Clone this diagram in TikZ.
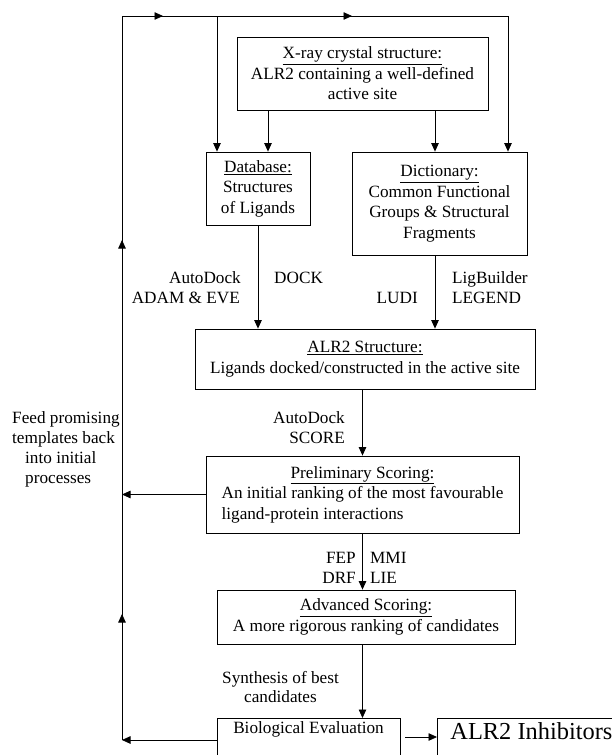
\documentclass[tikz,border=0pt]{standalone}
\usepackage{fontspec}
\setmainfont{Liberation Serif}
\usetikzlibrary{arrows.meta,calc}
\begin{document}
\begin{tikzpicture}[x=1pt,y=-1pt,
  txt/.style={font=\fontsize{17.2}{20.5}\selectfont, inner sep=0pt},
  box/.style={draw, line width=0.8pt, txt, align=center},
  ln/.style={line width=0.8pt},
  arr/.style={ln, -{Triangle[length=8.5pt,width=7.5pt]}}]
\useasboundingbox (0,0) rectangle (612,755);
% boxes
\node[box, minimum width=251pt, minimum height=73pt] (xray) at (362.5,73.5)
  {\underline{X-ray crystal structure:}\\ALR2 containing a well-defined\\active site};
\node[box, minimum width=104pt, minimum height=73pt] (db) at (258,188.5)
  {\underline{Database:}\\Structures\\of Ligands};
\node[box, minimum width=175pt, minimum height=103pt] (dict) at (439.5,203.5)
  {\underline{Dictionary:}\\Common Functional\\Groups \& Structural\\Fragments};
\node[box, minimum width=340pt, minimum height=60pt] (struct) at (365,359)
  {\underline{ALR2 Structure:}\\Ligands docked/constructed in the active site};
\node[box, minimum width=313pt, minimum height=77pt] (prelim) at (362.5,494.5)
  {\begin{tabular}{@{}l@{}}\multicolumn{1}{@{}c@{}}{\underline{Preliminary Scoring:}}\\
   An initial ranking of the most favourable\\ligand-protein interactions\end{tabular}};
\node[box, minimum width=298pt, minimum height=54pt] (adv) at (366,617)
  {\underline{Advanced Scoring:}\\A more rigorous ranking of candidates};
\node[draw, ln, txt, anchor=north, minimum width=183pt, text height=11.5pt,
  text depth=30pt, inner ysep=4pt] (bio) at (308.5,718) {Biological Evaluation};
\node[draw, ln, font=\fontsize{24.4}{28}\selectfont, anchor=north west,
  text height=17pt, text depth=30pt, inner ysep=4pt, inner xsep=13pt] (inhib) at (437,718) {ALR2 Inhibitors};
% coordinates
\coordinate (L) at (122,740);
\coordinate (TL) at (122,16);
\coordinate (TR) at (508,16);
\coordinate (T1) at (217,16);
\coordinate (xa) at (268,0);
\coordinate (xb) at (435,0);
\coordinate (ay) at (0,737);
% feedback loop
\draw[arr] (bio.west |- L) -- (L);
\draw[ln] (L) -- (TL) -- (TR);
\draw[arr] (L) -- (122,614);
\draw[arr] (L) -- (122,240);
\draw[arr] (TL) -- (163,16);
\draw[arr] (TL) -- (352,16);
\draw[arr] (TR) -- (TR |- dict.north);
\draw[arr] (T1) -- (T1 |- db.north);
\draw[arr] (prelim.west) -- (prelim.west -| L);
% main flow
\draw[arr] (xray.south -| xa) -- (db.north -| xa);
\draw[arr] (xray.south -| xb) -- (dict.north -| xb);
\draw[arr] (db.south) -- (db.south |- struct.north);
\draw[arr] (dict.south -| xb) -- (struct.north -| xb);
\draw[arr] (struct.south -| prelim.north) -- (prelim.north);
\draw[arr] (prelim.south) -- (prelim.south |- adv.north);
\draw[arr] (prelim.south |- adv.south) -- (prelim.south |- bio.north);
\draw[arr] ($(bio.east |- ay)+(5,0)$) -- (inhib.west |- ay);
% labels
\node[txt, anchor=base east] (l1) at (241,283) {AutoDock};
\node[txt, anchor=base east] (l2) at (240,303) {ADAM \& EVE};
\node[txt, anchor=base west] (l3) at (274,283) {DOCK};
\node[txt, anchor=base east] (l4) at (418,303) {LUDI};
\node[txt, anchor=base west] (l5) at (452,283) {LigBuilder};
\node[txt, anchor=base west] (l6) at (452,303) {LEGEND};
\node[txt, anchor=base east] (l7) at (345,423) {AutoDock};
\node[txt, anchor=base east] (l8) at (345,443) {SCORE};
\node[txt, anchor=base east] (l9) at (356,563) {FEP};
\node[txt, anchor=base east] (l10) at (356,583) {DRF};
\node[txt, anchor=base west] (l11) at (370,563) {MMI};
\node[txt, anchor=base west] (l12) at (370,583) {LIE};
\node[txt, anchor=base] (l13) at (280.5,683) {Synthesis of best};
\node[txt, anchor=base] (l14) at (280.5,702) {candidates};
\node[txt, anchor=base west] (f1) at (12,423) {Feed promising};
\node[txt, anchor=base west] (f2) at (12,443) {templates back};
\node[txt, anchor=base west] (f3) at (25,463) {into initial};
\node[txt, anchor=base west] (f4) at (25,483) {processes};
\end{tikzpicture}
\end{document}
